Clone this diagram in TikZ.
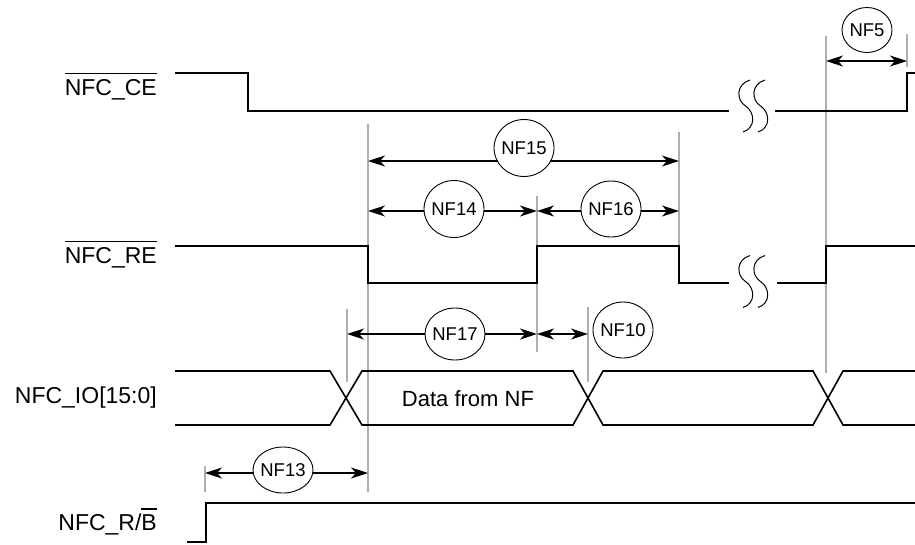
\documentclass[tikz,border=0pt]{standalone}
\usepackage{fontspec}
\setmainfont{Liberation Sans}
\usetikzlibrary{arrows.meta,shapes.geometric}
\definecolor{guidegray}{RGB}{175,175,175}
\newcommand\ovbar[2][4.5pt]{\setbox0\hbox{#2}\rlap{\rule[\dimexpr\ht0+#1\relax]{\wd0}{1.5pt}}\box0}
\newcommand\nolen[1]{\makebox[0pt]{#1}}
\begin{document}
\begin{tikzpicture}[x=1pt,y=-1pt,
  sig/.style={line width=1.6pt, line join=miter},
  guide/.style={line width=1.3pt, draw=guidegray},
  tarrow/.style={line width=1.5pt, {Stealth[length=17pt,width=11pt,inset=5pt]}-{Stealth[length=17pt,width=11pt,inset=5pt]}},
  tlabel/.style={ellipse, draw, line width=0.9pt, fill=white, inner sep=0pt, font=\fontsize{18.5}{20}\selectfont},
  siglabel/.style={anchor=base east, inner sep=0pt, font=\fontsize{23}{25}\selectfont},
  brk/.style={line width=1pt}
]
\useasboundingbox (0,0) rectangle (915,544);

% guide lines
\coordinate (g1t) at (368,124); \coordinate (g1b) at (368,492);
\coordinate (g2t) at (537,196); \coordinate (g2b) at (537,352);
\coordinate (g3t) at (679,132); \coordinate (g3b) at (679,283);
\coordinate (g4t) at (826,36);  \coordinate (g4b) at (826,373);
\coordinate (g5t) at (907,34);  \coordinate (g5b) at (907,67);
\coordinate (g6t) at (347,309); \coordinate (g6b) at (347,382);
\coordinate (g7t) at (588,307); \coordinate (g7b) at (588,382);
\coordinate (g8t) at (205,466); \coordinate (g8b) at (205,492);
\foreach \g in {1,...,8} {\draw[guide] (g\g t) -- (g\g b);}

% signal labels
\node[siglabel] (ce) at (157,95) {\ovbar{NFC\_CE}};
\node[siglabel] (re) at (157,263) {\ovbar{NFC\_RE}};
\node[siglabel] (io) at (157,403) {NFC\_IO[15:0]};
\node[siglabel] (rb) at (157,530) {NFC\_R/\ovbar{B}};

% NFC_CE
\draw[sig] (175,73) -- (248,73) -- (248,111) -- (729,111);
\draw[sig] (775,111) -- (907,111) -- (907,73) -- (915,73);
% NFC_RE
\draw[sig] (175,246) -- (368,246) -- (368,283) -- (537,283) -- (537,246) -- (679,246) -- (679,283) -- (729,283);
\draw[sig] (777,283) -- (826,283) -- (826,246) -- (915,246);
% breaks
\foreach \dy in {0,175.5} {
  \foreach \dx in {0,15} {
    \draw[brk] ([shift={(\dx,\dy)}]750,80) .. controls ([shift={(\dx,\dy)}]736,84) and ([shift={(\dx,\dy)}]736,100) .. ([shift={(\dx,\dy)}]745.5,106)
      .. controls ([shift={(\dx,\dy)}]755,112) and ([shift={(\dx,\dy)}]756,128) .. ([shift={(\dx,\dy)}]743,132);
  }
}
% NFC_IO bus
\draw[sig] (175,371) -- (330,371) -- (362,425) -- (573,425) -- (603,371) -- (813,371) -- (843,425) -- (915,425);
\draw[sig] (175,425) -- (330,425) -- (362,371) -- (573,371) -- (603,425) -- (813,425) -- (843,371) -- (915,371);
\node[font=\fontsize{22}{24}\selectfont, anchor=base, inner sep=0pt] (data) at (468,406) {Data from NF};
% NFC_R/B
\draw[sig] (187,542) -- (206,542) -- (206,503) -- (915,503);

% timing arrows
\coordinate (a5l) at (826,61);   \coordinate (a5r) at (907,61);
\coordinate (a15l) at (368,161); \coordinate (a15r) at (679,161);
\coordinate (a14l) at (368,211); \coordinate (a14r) at (537,211);
\coordinate (a16l) at (537,211); \coordinate (a16r) at (679,211);
\coordinate (a17l) at (347,334); \coordinate (a17r) at (537,334);
\coordinate (a10l) at (537,334); \coordinate (a10r) at (588,334);
\coordinate (a13l) at (205,473); \coordinate (a13r) at (368,473);
\foreach \a in {5,15,14,16,17,10,13} {\draw[tarrow] (a\a l) -- (a\a r);}

% timing labels
\node[tlabel, minimum width=50pt, minimum height=45pt] (nf5) at (867,30) {\nolen{NF5}};
\node[tlabel, minimum width=60pt, minimum height=57pt] (nf15) at (524,148) {\nolen{NF15}};
\node[tlabel, minimum width=60pt, minimum height=57pt] (nf14) at (454,209) {\nolen{NF14}};
\node[tlabel, minimum width=60pt, minimum height=56pt] (nf16) at (611,209) {\nolen{NF16}};
\node[tlabel, minimum width=60pt, minimum height=52pt] (nf17) at (455,334) {\nolen{NF17}};
\node[tlabel, minimum width=60pt, minimum height=56pt] (nf10) at (623,330) {\nolen{NF10}};
\node[tlabel, minimum width=60pt, minimum height=46pt] (nf13) at (283,470) {\nolen{NF13}};
\end{tikzpicture}
\end{document}
